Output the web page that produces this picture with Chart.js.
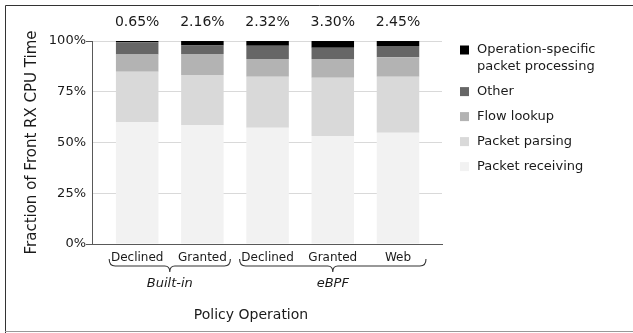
<!DOCTYPE html>
<html>
<head>
<meta charset="utf-8">
<script src="https://cdn.jsdelivr.net/npm/chart.js@4.4.1/dist/chart.umd.min.js"></script>
<style>
  html, body { margin: 0; padding: 0; background: #fff; }
  #wrap { position: relative; width: 633px; height: 333px; }
</style>
</head>
<body>
<div id="wrap"><canvas id="chart"></canvas></div>
<script>
// Data
const CATEGORIES = ['Declined', 'Granted', 'Declined', 'Granted', 'Web'];
const GROUPS = ['Built-in', 'eBPF'];
const GROUP_FIRST = [0, 2];
const GROUP_LAST = [1, 4];
const RECEIVING = [60.1, 58.5, 57.3, 53.2, 54.8];
const PARSING = [24.8, 24.8, 25.1, 28.7, 27.6];
const FLOW = [8.4, 10.3, 8.7, 9.2, 9.6];
const OTHER = [6.05, 4.24, 6.58, 5.6, 5.55];
const OP_SPECIFIC = [0.65, 2.16, 2.32, 3.30, 2.45];
const Y_TICKS = [0, 25, 50, 75, 100];

const FONT = 'DejaVu Sans';
const TEXT = '#1a1a1a';
const AXIS = '#595959';
const GRID = '#d9d9d9';

function pts(arr) {
    return arr.map((v, i) => ({ x: i, y: v }));
}

// percent labels, braces, group names, x title, legend, frame
const decorations = {
    id: 'decorations',
    afterDraw(chart) {
        const ctx = chart.ctx;
        const xs = chart.scales.x;
        ctx.save();

        // frame
        ctx.lineWidth = 1;
        ctx.strokeStyle = '#333';
        ctx.beginPath();
        ctx.moveTo(5.5, 333); ctx.lineTo(5.5, 5.5); ctx.lineTo(633, 5.5);
        ctx.stroke();
        ctx.strokeStyle = '#999';
        ctx.beginPath();
        ctx.moveTo(5, 331.5); ctx.lineTo(633, 331.5);
        ctx.stroke();

        // values above bars
        ctx.fillStyle = TEXT;
        ctx.font = '14px "' + FONT + '"';
        ctx.textAlign = 'center';
        ctx.textBaseline = 'middle';
        OP_SPECIFIC.forEach((v, i) => {
            ctx.fillText(v.toFixed(2) + '%', xs.getPixelForValue(i), 22.5);
        });

        // braces + group labels
        const yTop = 259, yMid = 266, yTip = 272;
        ctx.strokeStyle = '#333';
        ctx.lineWidth = 1.1;
        GROUPS.forEach((g, k) => {
            const x0 = xs.getPixelForValue(GROUP_FIRST[k]) - 28;
            const x1 = xs.getPixelForValue(GROUP_LAST[k]) + 28;
            const cx = (x0 + x1) / 2;
            ctx.beginPath();
            ctx.moveTo(x0, yTop);
            ctx.quadraticCurveTo(x0, yMid, x0 + 6, yMid);
            ctx.lineTo(cx - 5, yMid);
            ctx.quadraticCurveTo(cx, yMid, cx, yTip);
            ctx.moveTo(x1, yTop);
            ctx.quadraticCurveTo(x1, yMid, x1 - 6, yMid);
            ctx.lineTo(cx + 5, yMid);
            ctx.quadraticCurveTo(cx, yMid, cx, yTip);
            ctx.stroke();
            ctx.font = 'italic 13px "' + FONT + '"';
            ctx.fillText(g, cx, 283.5);
        });

        // x title
        ctx.font = '14px "' + FONT + '"';
        ctx.fillText('Policy Operation', 251, 315.5);

        // legend (top of stack first)
        ctx.textAlign = 'left';
        ctx.font = '13px "' + FONT + '"';
        let y = 50;
        chart.data.datasets.slice().reverse().forEach(ds => {
            const lines = [];
            let cur = '';
            ds.label.split(' ').forEach(w => {
                const t = cur ? cur + ' ' + w : w;
                if (cur && ctx.measureText(t).width > 145) { lines.push(cur); cur = w; }
                else cur = t;
            });
            lines.push(cur);
            ctx.fillStyle = ds.backgroundColor;
            ctx.fillRect(460, y - 4.5, 9, 9);
            ctx.fillStyle = TEXT;
            lines.forEach((l, j) => ctx.fillText(l, 477, y + j * 16.6));
            y += 25 + (lines.length - 1) * 16.6;
        });
        ctx.restore();
    }
};

new Chart(document.getElementById('chart'), {
    type: 'bar',
    data: {
        datasets: [
            { label: 'Packet receiving', data: pts(RECEIVING), backgroundColor: '#f2f2f2' },
            { label: 'Packet parsing', data: pts(PARSING), backgroundColor: '#d9d9d9' },
            { label: 'Flow lookup', data: pts(FLOW), backgroundColor: '#b3b3b3' },
            { label: 'Other', data: pts(OTHER), backgroundColor: '#666666' },
            { label: 'Operation-specific packet processing', data: pts(OP_SPECIFIC), backgroundColor: '#000000' },
        ],
    },
    options: {
        responsive: true,
        maintainAspectRatio: false,
        animation: false,
        datasets: { bar: { barPercentage: 0.652, categoryPercentage: 1, borderWidth: 0 } },
        layout: { padding: { top: 41, right: 191, left: 0, bottom: 0 } },
        plugins: {
            legend: { display: false },
            tooltip: { enabled: false },
        },
        scales: {
            x: {
                type: 'linear',
                stacked: true,
                offset: false,
                min: -0.693,
                max: 4.675,
                afterFit: s => { s.height = 89; },
                afterBuildTicks: s => { s.ticks = CATEGORIES.map((_, i) => ({ value: i })); },
                grid: { display: false, drawTicks: false, offset: false },
                border: { color: AXIS, width: 1, z: 1 },
                ticks: {
                    autoSkip: false,
                    maxRotation: 0,
                    includeBounds: false,
                    padding: 7,
                    color: TEXT,
                    font: { family: FONT, size: 12 },
                    callback: v => CATEGORIES[v] ?? '',
                },
            },
            y: {
                stacked: true,
                min: 0,
                max: 100,
                afterFit: s => { s.width = 92; },
                afterBuildTicks: s => { s.ticks = Y_TICKS.map(v => ({ value: v })); },
                grid: {
                    color: GRID,
                    drawTicks: true,
                    tickLength: 6,
                    tickColor: c => (c.tick && (c.tick.value === 0 || c.tick.value === 100)) ? AXIS : 'rgba(0,0,0,0)',
                },
                border: { color: AXIS, width: 1, z: 1 },
                ticks: {
                    padding: 0,
                    color: TEXT,
                    font: { family: FONT, size: 13 },
                    callback: v => v + '%',
                },
                title: {
                    display: true,
                    text: 'Fraction of Front RX CPU Time',
                    color: TEXT,
                    font: { family: FONT, size: 15 },
                    padding: { top: 23, bottom: 0 },
                },
            },
        },
    },
    plugins: [decorations],
});
</script>
</body>
</html>
